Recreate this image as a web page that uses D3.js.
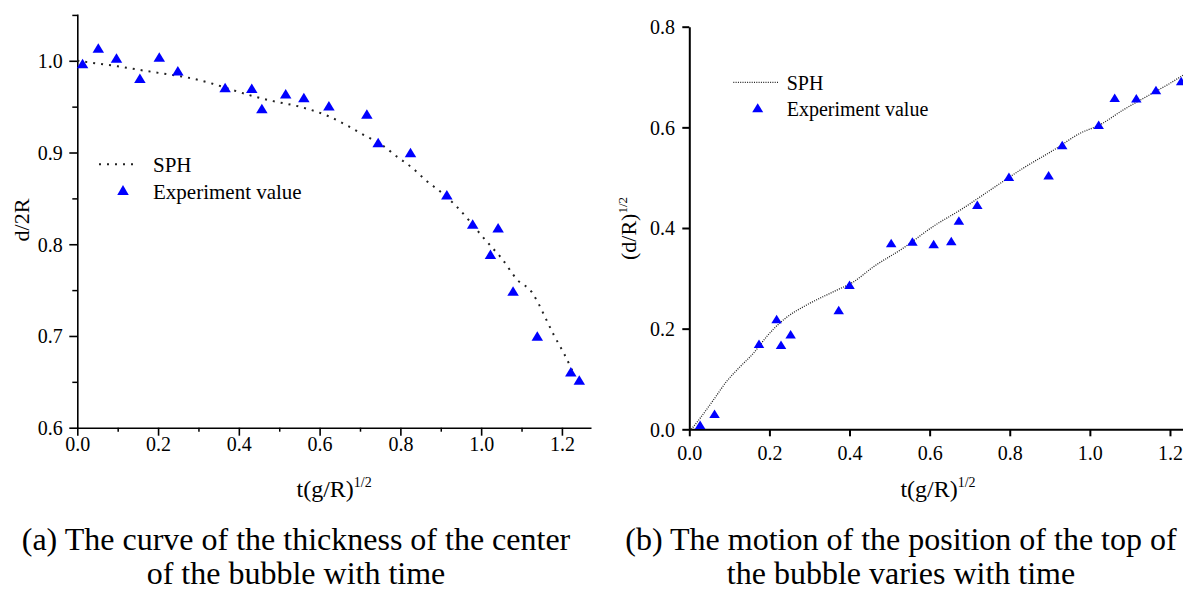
<!DOCTYPE html>
<html><head><meta charset="utf-8">
<script src="https://cdn.jsdelivr.net/npm/d3@7"></script>
<style>
body{margin:0;background:#fff}
svg{display:block}
text{font-family:"Liberation Serif","Times New Roman",serif;fill:#000}
</style>
</head><body>
<svg id="c" width="1183" height="590"></svg>
<script>
// ---------- data ----------
const xTicksMajor = [0, 0.2, 0.4, 0.6, 0.8, 1.0, 1.2];
const xTicksMinorA = [0.1, 0.3, 0.5, 0.7, 0.9, 1.1];
const yTicksMajorA = [0.6, 0.7, 0.8, 0.9, 1.0];
const yTicksMinorA = [0.65, 0.75, 0.85, 0.95, 1.05];
const yTicksMajorB = [0.0, 0.2, 0.4, 0.6, 0.8];

const expA_x = [0.013,0.052,0.097,0.155,0.203,0.249,0.366,0.432,0.457,0.516,0.561,0.623,0.717,0.745,0.825,0.915,0.979,1.042,1.023,1.079,1.139,1.222,1.243];
const expA_y = [0.997,1.014,1.003,0.981,1.004,0.989,0.971,0.970,0.948,0.964,0.960,0.951,0.942,0.911,0.900,0.854,0.822,0.818,0.789,0.749,0.700,0.661,0.652];

const sphA_x = [0,0.05,0.1,0.155,0.22,0.27,0.335,0.385,0.435,0.485,0.55,0.625,0.67,0.71,0.755,0.79,0.83,0.865,0.9,0.935,0.97,1.0,1.03,1.05,1.09,1.125,1.14,1.16,1.18,1.205,1.228];
const sphA_y = [1.0,0.997,0.994,0.990,0.9855,0.982,0.975,0.968,0.9615,0.956,0.950,0.939,0.929,0.919,0.908,0.896,0.883,0.869,0.857,0.843,0.826,0.810,0.795,0.785,0.761,0.748,0.737,0.719,0.701,0.681,0.660];

const expB_x = [0.027,0.063,0.174,0.218,0.229,0.253,0.373,0.400,0.504,0.557,0.610,0.654,0.673,0.719,0.798,0.897,0.931,1.022,1.062,1.116,1.165,1.228];
const expB_y = [0.009,0.031,0.170,0.219,0.168,0.189,0.237,0.287,0.370,0.373,0.368,0.374,0.415,0.446,0.502,0.505,0.565,0.605,0.659,0.658,0.674,0.692];

const sphB_x = [0.005,0.027,0.06,0.093,0.127,0.16,0.193,0.21,0.243,0.293,0.36,0.41,0.46,0.534,0.608,0.683,0.758,0.833,0.916,0.975,1.025,1.083,1.141,1.2,1.245];
const sphB_y = [0,0.022,0.058,0.095,0.1245,0.151,0.184,0.199,0.2225,0.247,0.2735,0.293,0.323,0.36,0.4026,0.439,0.479,0.5186,0.558,0.588,0.605,0.6345,0.661,0.6875,0.71];

const legendLabels = ["SPH", "Experiment value"];
const captionA = ["(a) The curve of the thickness of the center", "of the bubble with time"];
const captionB = ["(b) The motion of the position of the top of", "the bubble varies with time"];

// ---------- drawing ----------
const svg = d3.select("#c");
const BLUE = "#0000ff";
const zip = (xs, ys) => xs.map((x, i) => [x, ys[i]]);

function triangle(w, h) {
  const p = d3.path();
  p.moveTo(0, -h / 2); p.lineTo(w / 2, h / 2); p.lineTo(-w / 2, h / 2); p.closePath();
  return p.toString();
}

function styleAxis(g, sw) {
  g.selectAll("path,line").attr("stroke", "#000").attr("stroke-width", sw);
}

// ===== Chart A =====
const xA = d3.scaleLinear([0, 1.272], [77.3, 591]);
const yA = d3.scaleLinear([0.6, 1.051], [427.7, 14]);
const gA = svg.append("g");

const axA_xMinor = gA.append("g").attr("transform", `translate(0,${yA(0.6)})`)
  .call(d3.axisBottom(xA).tickValues(xTicksMinorA).tickSize(4).tickSizeOuter(0).tickFormat(""));
axA_xMinor.select(".domain").remove();
styleAxis(axA_xMinor, 1.5);
const axA_x = gA.append("g").attr("transform", `translate(0,${yA(0.6)})`)
  .call(d3.axisBottom(xA).tickValues(xTicksMajor).tickSize(8).tickSizeOuter(0).tickFormat(d3.format(".1f")));
styleAxis(axA_x, 1.6);
axA_x.selectAll("text").attr("y", 23).attr("dy", 0).style("font-size", "20px").attr("font-family", null);

const axA_yMinor = gA.append("g").attr("transform", `translate(${xA(0)},0)`)
  .call(d3.axisLeft(yA).tickValues(yTicksMinorA).tickSize(5).tickSizeOuter(0).tickFormat(""));
axA_yMinor.select(".domain").remove();
styleAxis(axA_yMinor, 1.5);
const axA_y = gA.append("g").attr("transform", `translate(${xA(0)},0)`)
  .call(d3.axisLeft(yA).tickValues(yTicksMajorA).tickSize(8).tickSizeOuter(0).tickFormat(d3.format(".1f")));
styleAxis(axA_y, 1.6);
axA_y.selectAll("text").attr("x", -14.5).attr("dy", "0.34em").style("font-size", "20px").attr("font-family", null);

gA.append("path").datum(zip(sphA_x, sphA_y))
  .attr("d", d3.line().x(d => xA(d[0])).y(d => yA(d[1])).curve(d3.curveMonotoneX))
  .attr("fill", "none").attr("stroke", "#222").attr("stroke-width", 2)
  .attr("stroke-dasharray", "2,6");

gA.selectAll("path.tri").data(zip(expA_x, expA_y)).join("path").attr("class", "tri")
  .attr("d", triangle(11.5, 9.5)).attr("fill", BLUE)
  .attr("transform", d => `translate(${xA(d[0])},${yA(d[1])})`);

// legend A
gA.append("line").attr("x1", 99).attr("x2", 139).attr("y1", 164.3).attr("y2", 164.3)
  .attr("stroke", "#222").attr("stroke-width", 2).attr("stroke-dasharray", "2,6");
gA.append("path").attr("d", triangle(11.5, 10)).attr("fill", BLUE).attr("transform", "translate(123,190)");
gA.append("text").attr("x", 153).attr("y", 172.3).style("font-size", "21px").text(legendLabels[0]);
gA.append("text").attr("x", 153).attr("y", 199).style("font-size", "21px").text(legendLabels[1]);

// titles A
const tA = gA.append("text").attr("x", (xA.range()[0] + xA.range()[1]) / 2).attr("y", 497)
  .attr("text-anchor", "middle").style("font-size", "24px");
tA.append("tspan").text("t(g/R)");
tA.append("tspan").attr("dy", -10).style("font-size", "14px").text("1/2");

gA.append("text").attr("transform", "translate(29,220) rotate(-90)")
  .attr("text-anchor", "middle").style("font-size", "22px").text("d/2R");

// ===== Chart B =====
const xB = d3.scaleLinear([0, 1.245], [689.3, 1188]);
const yB = d3.scaleLinear([0, 0.8], [429.3, 26.7]);
const gB = svg.append("g");

const axB_x = gB.append("g").attr("transform", `translate(0,${yB(0)})`)
  .call(d3.axisBottom(xB).tickValues(xTicksMajor).tickSize(7).tickSizeOuter(0).tickFormat(d3.format(".1f")));
styleAxis(axB_x, 2);
axB_x.selectAll("text").attr("y", 30.6).attr("dy", 0).style("font-size", "20px").attr("font-family", null);

const axB_y = gB.append("g").attr("transform", `translate(${xB(0)},0)`)
  .call(d3.axisLeft(yB).tickValues(yTicksMajorB).tickSize(7).tickSizeOuter(0).tickFormat(d3.format(".1f")));
styleAxis(axB_y, 2);
axB_y.selectAll("text").attr("x", -14.3).attr("dy", "0.34em").style("font-size", "20px").attr("font-family", null);

gB.append("path").datum(zip(sphB_x, sphB_y))
  .attr("d", d3.line().x(d => xB(d[0])).y(d => yB(d[1])).curve(d3.curveMonotoneX))
  .attr("fill", "none").attr("stroke", "#222").attr("stroke-width", 1.3)
  .attr("stroke-dasharray", "1,1.3");

gB.selectAll("path.tri").data(zip(expB_x, expB_y)).join("path").attr("class", "tri")
  .attr("d", triangle(10.5, 8.5)).attr("fill", BLUE)
  .attr("transform", d => `translate(${xB(d[0])},${yB(d[1])})`);

// legend B
gB.append("line").attr("x1", 733.3).attr("x2", 779).attr("y1", 82.3).attr("y2", 82.3)
  .attr("stroke", "#222").attr("stroke-width", 1.3).attr("stroke-dasharray", "1,1.3");
gB.append("path").attr("d", triangle(11, 9)).attr("fill", BLUE).attr("transform", "translate(757.7,107.7)");
gB.append("text").attr("x", 786.7).attr("y", 90).style("font-size", "20px").text(legendLabels[0]);
gB.append("text").attr("x", 786.7).attr("y", 115.7).style("font-size", "20px").text(legendLabels[1]);

// titles B
const tB = gB.append("text").attr("x", 938).attr("y", 497)
  .attr("text-anchor", "middle").style("font-size", "24px");
tB.append("tspan").text("t(g/R)");
tB.append("tspan").attr("dy", -10).style("font-size", "14px").text("1/2");

const yTB = gB.append("text").attr("transform", "translate(636,228.5) rotate(-90)")
  .attr("text-anchor", "middle").style("font-size", "22px");
yTB.append("tspan").text("(d/R)");
yTB.append("tspan").attr("dy", -9).style("font-size", "13px").text("1/2");

// ===== captions =====
function caption(lines, cx) {
  lines.forEach((s, i) => {
    svg.append("text").attr("x", cx).attr("y", 550 + i * 34)
      .attr("text-anchor", "middle").style("font-size", "32px").text(s);
  });
}
caption(captionA, 296);
caption(captionB, 901);
</script>
</body></html>
